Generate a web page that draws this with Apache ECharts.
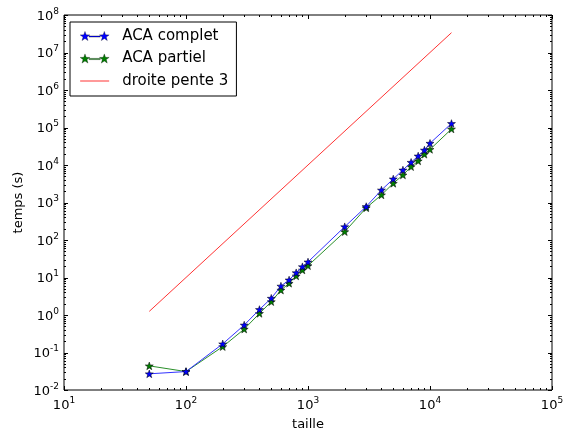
<!DOCTYPE html>
<html>
<head>
<meta charset="utf-8">
<script src="https://cdn.jsdelivr.net/npm/echarts@6/dist/echarts.min.js"></script>
<style>html,body{margin:0;padding:0;background:#fff}#c{width:563px;height:433px}</style>
</head>
<body>
<div id="c"></div>
<script>
// ---- data ----
const taille = [50,100,200,300,400,500,600,700,800,900,1000,2000,3000,4000,5000,6000,7000,8000,9000,10000,15000];
const acaComplet = [0.027,0.031,0.17,0.54,1.4,2.8,5.9,8.6,13.4,19.4,26,226,780,2150,4240,7360,11800,17400,25000,38000,128000];
const acaPartiel = [0.044,0.031,0.143,0.42,1.1,2.26,4.6,7.0,11,15.8,20.6,166,720,1590,3240,5400,9000,12800,19300,26000,91000];
const droiteX = [50, 15000];
const droiteY = [1.25, 3.375e7];
const seriesNames = ['ACA complet', 'ACA partiel', 'droite pente 3'];
const xRange = [10, 1e5];
const yRange = [0.01, 1e8];

// ---- helpers ----
function starPts(cx, cy, R, r) {
  let s = '';
  for (let k = 0; k < 10; k++) {
    const a = (k * 36 - 90) * Math.PI / 180;
    const rr = k % 2 === 0 ? R : r;
    s += (k === 0 ? 'M' : 'L') + (cx + rr * Math.cos(a)).toFixed(3) + ' ' + (cy + rr * Math.sin(a)).toFixed(3) + ' ';
  }
  return s + 'Z ';
}
const starPath = 'path://' + starPts(5, 5, 5, 2);
const legendStar = 'path://' + starPts(5, 5, 5, 2) + starPts(24, 5, 5, 2) + 'M9 4.4 L20 4.4 L20 5.6 L9 5.6 Z';
const legendLine = 'path://M0 0 L29 0 L29 1 L0 1 Z';

function pairs(xs, ys) { return xs.map((x, i) => [x, ys[i]]); }
function decades(lo, hi) {
  const out = [];
  for (let e = Math.round(Math.log10(lo)); e <= Math.round(Math.log10(hi)); e++) out.push(Math.pow(10, e));
  return out;
}
function minorVals(lo, hi) {
  const out = [];
  for (let e = Math.round(Math.log10(lo)); e < Math.round(Math.log10(hi)); e++) {
    for (let m = 2; m <= 9; m++) out.push(m * Math.pow(10, e));
  }
  return out;
}
const fmt = v => '{b|10}{s|' + Math.round(Math.log10(v)) + '}';
const FONT = 'DejaVu Sans';
const rich = {
  b: { fontSize: 13, lineHeight: 16, verticalAlign: 'bottom', fontFamily: FONT, color: '#000' },
  s: { fontSize: 9, lineHeight: 8, verticalAlign: 'top', fontFamily: FONT, color: '#000' }
};

const chart = echarts.init(document.getElementById('c'), null, { renderer: 'canvas' });

const axisCommon = {
  type: 'log', logBase: 10, interval: 1,
  splitLine: { show: false },
  axisLine: { show: false },
  axisTick: { show: false },
  minorTick: { show: false }
};

function tickRender(isX, len) {
  return (p, api) => {
    const v = api.value(isX ? 0 : 1);
    if (isX) {
      const b = api.coord([v, yRange[0]]);
      const t = api.coord([v, yRange[1]]);
      const x = Math.round(b[0]) + 0.5;
      return { type: 'group', children: [
        { type: 'line', shape: { x1: x, y1: b[1], x2: x, y2: b[1] - len }, style: { stroke: '#000', lineWidth: 1 } },
        { type: 'line', shape: { x1: x, y1: t[1], x2: x, y2: t[1] + len }, style: { stroke: '#000', lineWidth: 1 } }
      ] };
    }
    const l = api.coord([xRange[0], v]);
    const r = api.coord([xRange[1], v]);
    const y = Math.round(l[1]) + 0.5;
    return { type: 'group', children: [
      { type: 'line', shape: { x1: l[0], y1: y, x2: l[0] + len, y2: y }, style: { stroke: '#000', lineWidth: 1 } },
      { type: 'line', shape: { x1: r[0], y1: y, x2: r[0] - len, y2: y }, style: { stroke: '#000', lineWidth: 1 } }
    ] };
  };
}

chart.setOption({
  animation: false,
  backgroundColor: '#fff',
  grid: { left: 64, right: 11, top: 15, bottom: 43, show: true, borderColor: '#000', borderWidth: 1,
          backgroundColor: 'transparent', containLabel: false, outerBoundsMode: 'none' },
  xAxis: [
    Object.assign({}, axisCommon, {
      min: xRange[0], max: xRange[1], position: 'bottom',
      name: 'taille', nameLocation: 'middle', nameGap: 28, nameMoveOverlap: false,
      nameTextStyle: { fontFamily: FONT, fontSize: 13, color: '#000' },
      axisLabel: { formatter: fmt, rich: rich, margin: 6, showMinLabel: true, showMaxLabel: true, hideOverlap: false }
    })
  ],
  yAxis: [
    Object.assign({}, axisCommon, {
      min: yRange[0], max: yRange[1], position: 'left',
      name: 'temps (s)', nameLocation: 'middle', nameGap: 39, nameRotate: 90, nameMoveOverlap: false,
      nameTextStyle: { fontFamily: FONT, fontSize: 13, color: '#000' },
      axisLabel: { formatter: fmt, rich: rich, margin: 5, showMinLabel: true, showMaxLabel: true, hideOverlap: false }
    })
  ],
  legend: {
    orient: 'vertical', left: 70, top: 22,
    padding: [5, 8, 6, 10],
    itemGap: 4.5, itemWidth: 29, itemHeight: 10,
    borderColor: '#000', borderWidth: 1, backgroundColor: '#fff',
    textStyle: { fontFamily: FONT, fontSize: 15, color: '#000', lineHeight: 18, padding: [0, 0, 0, 8] },
    data: [
      { name: seriesNames[0], icon: legendStar, itemStyle: { color: '#0000ff', borderColor: '#000', borderWidth: 0.3 } },
      { name: seriesNames[1], icon: legendStar, itemStyle: { color: '#007f00', borderColor: '#000', borderWidth: 0.3 } },
      { name: seriesNames[2], icon: legendLine, itemStyle: { color: '#ff3333', borderWidth: 0 } }
    ]
  },
  series: [
    { type: 'custom', silent: true, z: 1, data: decades(xRange[0], xRange[1]).map(v => [v, 1]), renderItem: tickRender(true, 4) },
    { type: 'custom', silent: true, z: 1, data: minorVals(xRange[0], xRange[1]).map(v => [v, 1]), renderItem: tickRender(true, 2) },
    { type: 'custom', silent: true, z: 1, data: decades(yRange[0], yRange[1]).map(v => [100, v]), renderItem: tickRender(false, 4) },
    { type: 'custom', silent: true, z: 1, data: minorVals(yRange[0], yRange[1]).map(v => [100, v]), renderItem: tickRender(false, 2) },
    {
      name: seriesNames[0], type: 'line', data: pairs(taille, acaComplet),
      symbol: starPath, symbolSize: 8, symbolKeepAspect: true,
      lineStyle: { color: '#3333ff', width: 1 },
      itemStyle: { color: '#0000ff', borderColor: '#000', borderWidth: 0.5 },
      z: 4
    },
    {
      name: seriesNames[1], type: 'line', data: pairs(taille, acaPartiel),
      symbol: starPath, symbolSize: 8, symbolKeepAspect: true,
      lineStyle: { color: '#2a8f2a', width: 1 },
      itemStyle: { color: '#007f00', borderColor: '#000', borderWidth: 0.5 },
      z: 3
    },
    {
      name: seriesNames[2], type: 'line', data: pairs(droiteX, droiteY),
      showSymbol: false, symbol: 'none',
      lineStyle: { color: '#ff3333', width: 1 },
      itemStyle: { color: '#ff3333' },
      z: 2
    }
  ]
});
</script>
</body>
</html>
